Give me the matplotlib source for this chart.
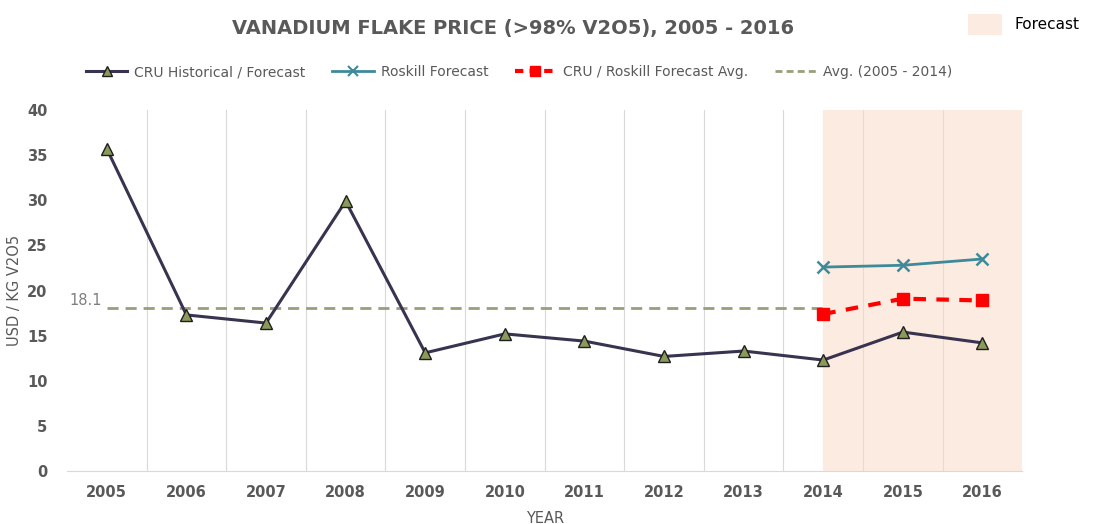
import matplotlib.pyplot as plt
from matplotlib.patches import Patch
from matplotlib.lines import Line2D

years = ["2005", "2006", "2007", "2008", "2009", "2010", "2011", "2012", "2013", "2014", "2015", "2016"]
cru = [35.7, 17.3, 16.4, 29.9, 13.1, 15.2, 14.4, 12.7, 13.3, 12.3, 15.4, 14.2]
roskill_years = ["2014", "2015", "2016"]
roskill = [22.6, 22.8, 23.5]
avg_fc = [17.4, 19.1, 18.9]
hist_avg = 18.1

gray = "#595959"
x = list(range(len(years)))
xr = [years.index(y) for y in roskill_years]

fig = plt.figure(figsize=(10.93, 5.24), dpi=100)
ax = fig.add_axes([0.0613, 0.101, 0.874, 0.689])

ax.axvspan(xr[0], len(years) - 0.5, color="#FCEBE0", zorder=0)
for i in range(len(years) - 1):
    c = "#E6DAD2" if i + 0.5 > xr[0] else "#D9D9D9"
    ax.axvline(i + 0.5, color=c, lw=0.8, zorder=1)

ax.plot([0, xr[0]], [hist_avg, hist_avg], ls=(0, (4, 2.5)), color="#9A9E7A", lw=2, zorder=2)
ax.text(-0.06, hist_avg, f"{hist_avg}", color="#7F7F7F", fontsize=10.5, ha="right", va="bottom")

ax.plot(x, cru, color="#3A3350", lw=2.2, marker="^", ms=8, mfc="#8A9A5B", mec="#1E1E1E", mew=1, zorder=4)
ax.plot(xr, roskill, color="#3E8A9A", lw=2, marker="x", ms=9, mew=1.8, zorder=4)
ax.plot(xr, avg_fc, color="#FF0000", lw=3, ls=(0, (3, 2.5)), marker="s", ms=8, zorder=4)

ax.set_xlim(-0.5, len(years) - 0.5)
ax.set_ylim(0, 40)
ax.set_yticks(range(0, 41, 5))
ax.set_xticks(x)
ax.set_xticklabels(years)
for lab in ax.get_xticklabels() + ax.get_yticklabels():
    lab.set_fontweight("bold")
    lab.set_color(gray)
    lab.set_fontsize(10.5)
ax.tick_params(length=0, pad=10)
ax.tick_params(axis="y", pad=14)
for s in ["top", "right", "left"]:
    ax.spines[s].set_visible(False)
ax.spines["bottom"].set_color("#D9D9D9")

ax.set_xlabel("YEAR", color=gray, fontsize=10.5, labelpad=8)
ax.set_ylabel("USD / KG V2O5", color=gray, fontsize=10.5, labelpad=4)

fig.text(0.469, 0.945, "VANADIUM FLAKE PRICE (>98% V2O5), 2005 - 2016", ha="center", va="center",
         fontsize=14, fontweight="bold", color=gray)

handles = [
    Line2D([], [], color="#3A3350", lw=2.2, marker="^", ms=7, mfc="#8A9A5B", mec="#1E1E1E"),
    Line2D([], [], color="#3E8A9A", lw=2, marker="x", ms=7, mew=1.5),
    Line2D([], [], color="#FF0000", lw=3, ls=(0, (2, 1.5)), marker="s", ms=7),
    Line2D([], [], color="#9A9E7A", lw=2, ls=(0, (2.5, 1.5))),
]
labels = ["CRU Historical / Forecast", "Roskill Forecast", "CRU / Roskill Forecast Avg.", "Avg. (2005 - 2014)"]
fig.legend(handles, labels, loc="center", bbox_to_anchor=(0.475, 0.862), ncol=4, frameon=False,
           fontsize=10, labelcolor=gray, columnspacing=1.9, handlelength=3, handletextpad=0.5)

fig.legend([Patch(facecolor="#FCEBE0")], ["Forecast"], loc="upper right", bbox_to_anchor=(1.0, 1.0),
           frameon=False, fontsize=11, handlelength=2.2, handleheight=1.8)

fig.savefig("out.png", dpi=100)
